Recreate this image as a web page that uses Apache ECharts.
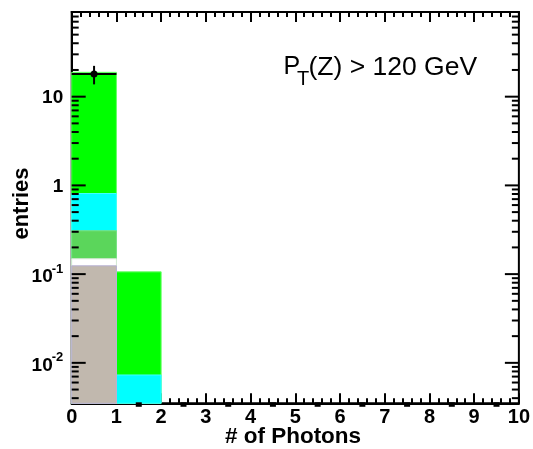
<!DOCTYPE html>
<html>
<head>
<meta charset="utf-8">
<script src="https://cdn.jsdelivr.net/npm/echarts@6/dist/echarts.min.js"></script>
<style>
html,body{margin:0;padding:0;background:#fff}
#c{width:533px;height:449px}
</style>
</head>
<body>
<div id="c"></div>
<script>
// Photon multiplicity in events with PT(Z) > 120 GeV, stacked expectation vs. data

const binEdges = [0, 1, 2, 3, 4, 5, 6, 7, 8, 9, 10];

// stacked contributions per bin, bottom layer first
const tanVals   = [0.124, 0, 0, 0, 0, 0, 0, 0, 0, 0];
const whiteVals = [0.025, 0, 0, 0, 0, 0, 0, 0, 0, 0];
const midGreenVals = [0.159, 0, 0, 0, 0, 0, 0, 0, 0, 0];
const cyanVals  = [0.502, 0.0073, 0, 0, 0, 0, 0, 0, 0, 0];
const greenVals = [18.0, 0.0987, 0, 0, 0, 0, 0, 0, 0, 0];

// observed entries
const dataCounts = [18, 0, 0, 0, 0, 0, 0, 0, 0, 0];

const xTickLabels = ['0', '1', '2', '3', '4', '5', '6', '7', '8', '9', '10'];
const yLabelValues = [0.01, 0.1, 1, 10];
const yLabelMantissa = ['10', '10', '1', '10'];
const yLabelExponent = ['-2', '-1', '', ''];

const Y_MIN = 0.0035;
const Y_MAX = 90;
const FONT = 'Liberation Sans, Helvetica, Arial, sans-serif';

const layers = [
  { name: 'tan', vals: tanVals, fill: '#c1b8ae', stroke: '#b7b0d2' },
  { name: 'white', vals: whiteVals, fill: '#ffffff', stroke: '#d8e8d8' },
  { name: 'midgreen', vals: midGreenVals, fill: '#5bd65b', stroke: '#7fe07f' },
  { name: 'cyan', vals: cyanVals, fill: '#00ffff', stroke: '#40ffff' },
  { name: 'green', vals: greenVals, fill: '#00ff00', stroke: '#66ff66' }
];

// cumulative tops, the way a stacked histogram draws each layer from the floor
const cumulative = [];
layers.forEach((layer, li) => {
  cumulative.push(layer.vals.map((v, i) => v + (li > 0 ? cumulative[li - 1][i] : 0)));
});

function histSeries(layer, tops) {
  const data = [];
  tops.forEach((t, i) => { if (t > 0) data.push([binEdges[i], binEdges[i + 1], t]); });
  return {
    type: 'custom',
    name: layer.name,
    silent: true,
    animation: false,
    data: data,
    encode: { x: [0, 1], y: 2 },
    renderItem: function (params, api) {
      const top = api.value(2);
      const p0 = api.coord([api.value(0), Y_MIN]);
      const p1 = api.coord([api.value(1), top]);
      return {
        type: 'rect',
        shape: { x: p0[0], y: p1[1], width: p1[0] - p0[0], height: p0[1] - p1[1] },
        style: { fill: layer.fill, stroke: layer.stroke, lineWidth: 1 }
      };
    }
  };
}

// topmost layer drawn first so lower layers sit over it
const histogramSeries = [];
for (let li = layers.length - 1; li >= 0; li--) {
  histogramSeries.push(histSeries(layers[li], cumulative[li]));
}

// data points with Poisson error bars; empty bins sit on the frame floor
const dataSeries = {
  type: 'custom',
  name: 'data',
  silent: true,
  animation: false,
  clip: false,
  z: 5,
  data: dataCounts.map((n, i) => [binEdges[i], binEdges[i + 1], n, n > 0 ? n : Y_MIN]),
  encode: { x: [0, 1], y: 3 },
  renderItem: function (params, api) {
    const lo = api.value(0), hi = api.value(1), n = api.value(2);
    const mid = (lo + hi) / 2;
    const black = { stroke: '#000', lineWidth: 2 };
    if (n <= 0) {
      const c = api.coord([mid, Y_MIN]);
      return { type: 'rect', shape: { x: c[0] - 3, y: c[1] - 1, width: 6, height: 4.5 }, style: { fill: '#000' } };
    }
    const err = Math.sqrt(n);
    const c = api.coord([mid, n]);
    const up = api.coord([mid, n + err]);
    const dn = api.coord([mid, Math.max(n - err, Y_MIN)]);
    const l = api.coord([lo, n]);
    const r = api.coord([hi, n]);
    return {
      type: 'group',
      children: [
        { type: 'line', shape: { x1: l[0], y1: l[1], x2: r[0], y2: r[1] }, style: black },
        { type: 'line', shape: { x1: up[0], y1: up[1], x2: dn[0], y2: dn[1] }, style: black },
        { type: 'circle', shape: { cx: c[0], cy: c[1], r: 3.5 }, style: { fill: '#000' } }
      ]
    };
  }
};

// logarithmic ticks on both vertical frame edges
const yTicks = [];
for (let d = -3; d <= 2; d++) {
  for (let k = 1; k <= 9; k++) {
    const v = k * Math.pow(10, d);
    if (v >= Y_MIN && v <= Y_MAX) yTicks.push([0, v, k === 1 ? 1 : 0]);
  }
}
const yTickSeries = {
  type: 'custom',
  name: 'yticks',
  silent: true,
  animation: false,
  z: 6,
  data: yTicks,
  encode: { x: 0, y: 1 },
  renderItem: function (params, api) {
    const v = api.value(1);
    const len = api.value(2) ? 14 : 7;
    const a = api.coord([binEdges[0], v]);
    const b = api.coord([binEdges[binEdges.length - 1], v]);
    const st = { stroke: '#000', lineWidth: 2 };
    return {
      type: 'group',
      children: [
        { type: 'line', shape: { x1: a[0], y1: a[1], x2: a[0] + len, y2: a[1] }, style: st },
        { type: 'line', shape: { x1: b[0], y1: b[1], x2: b[0] - len, y2: b[1] }, style: st }
      ]
    };
  }
};

const yLabelSeries = {
  type: 'custom',
  name: 'ylabels',
  silent: true,
  animation: false,
  clip: false,
  data: yLabelValues.map((v, i) => [0, v, i]),
  encode: { x: 0, y: 1 },
  renderItem: function (params, api) {
    const i = api.value(2);
    const p = api.coord([0, api.value(1)]);
    const right = p[0] - 8.5;
    const children = [];
    if (yLabelExponent[i]) {
      children.push({ type: 'text', style: {
        text: yLabelExponent[i], x: right, y: p[1] - 5, align: 'right', verticalAlign: 'middle',
        font: 'bold 13px ' + FONT, fill: '#000' } });
      children.push({ type: 'text', style: {
        text: yLabelMantissa[i], x: right - 10.5, y: p[1] + 2.5, align: 'right', verticalAlign: 'middle',
        font: 'bold 19px ' + FONT, fill: '#000' } });
    } else {
      children.push({ type: 'text', style: {
        text: yLabelMantissa[i], x: right, y: p[1] + 1, align: 'right', verticalAlign: 'middle',
        font: 'bold 19px ' + FONT, fill: '#000' } });
    }
    return { type: 'group', children: children };
  }
};

const xAxisCommon = {
  type: 'value',
  min: binEdges[0],
  max: binEdges[binEdges.length - 1],
  interval: 1,
  axisLine: { show: true, lineStyle: { color: '#000', width: 2 } },
  axisTick: { show: true, inside: true, length: 10, lineStyle: { color: '#000', width: 2 } },
  minorTick: { show: true, splitNumber: 5, length: 5, lineStyle: { color: '#000', width: 2 } },
  splitLine: { show: false },
  minorSplitLine: { show: false }
};

function titleText(text, x, y, font) {
  return { type: 'text', x: x, y: y, silent: true,
    style: { text: text, align: 'left', verticalAlign: 'middle', font: font, fill: '#000' } };
}

const chart = echarts.init(document.getElementById('c'), null, { renderer: 'canvas' });
chart.setOption({
  animation: false,
  backgroundColor: '#fff',
  grid: {
    left: 71.7, right: 13.5, top: 12, bottom: 45.7,
    show: true, borderColor: '#000', borderWidth: 2, backgroundColor: 'transparent'
  },
  xAxis: [
    Object.assign({}, xAxisCommon, {
      position: 'bottom',
      axisLabel: {
        show: true, margin: 4, color: '#000',
        fontFamily: FONT, fontWeight: 'bold', fontSize: 20,
        formatter: function (v) { return xTickLabels[Math.round(v)]; }
      }
    }),
    Object.assign({}, xAxisCommon, { position: 'top', axisLabel: { show: false } })
  ],
  yAxis: {
    type: 'log',
    logBase: 10,
    min: Y_MIN,
    max: Y_MAX,
    axisLine: { show: true, lineStyle: { color: '#000', width: 2 } },
    axisTick: { show: false },
    axisLabel: { show: false },
    splitLine: { show: false },
    minorTick: { show: false }
  },
  graphic: [
    { type: 'text', x: 22, y: 203.5, rotation: Math.PI / 2, silent: true,
      style: { text: 'entries', align: 'center', verticalAlign: 'middle', font: 'bold 22px ' + FONT, fill: '#000' } },
    { type: 'text', x: 293, y: 437, silent: true,
      style: { text: '# of Photons', align: 'center', verticalAlign: 'middle', font: 'bold 22.5px ' + FONT, fill: '#000' } },
    titleText('P', 283.5, 67.5, '25px ' + FONT),
    titleText('T', 297, 79, '20px ' + FONT),
    titleText('(Z) > 120 GeV', 308.5, 67.5, '26.5px ' + FONT)
  ],
  series: histogramSeries.concat([yTickSeries, dataSeries, yLabelSeries])
});
</script>
</body>
</html>
